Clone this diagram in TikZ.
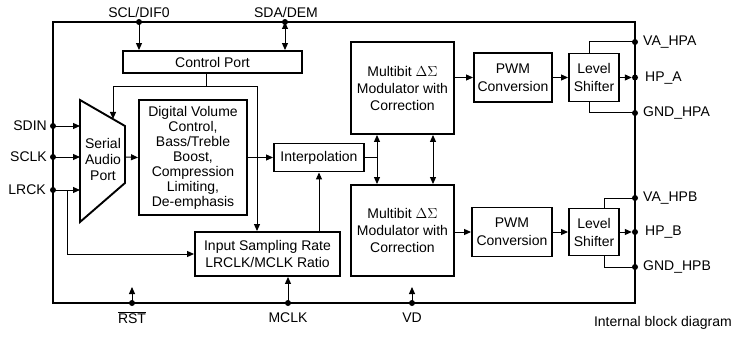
\documentclass[tikz,border=0pt]{standalone}
\usepackage{fontspec}
\setmainfont{Liberation Sans}
\usetikzlibrary{arrows.meta}
\begin{document}
\begin{tikzpicture}[x=1pt,y=-1pt,
  blk/.style={draw, line width=1.9pt, inner sep=0pt, align=center, font=\fontsize{14}{17}\selectfont},
  conn/.style={line width=1pt},
  arr/.style={conn,-{Triangle[length=7pt,width=6pt]}},
  darr/.style={conn,{Triangle[length=7pt,width=6pt]}-{Triangle[length=7pt,width=6pt]}},
  dot/.style={circle, fill, inner sep=0pt, minimum size=6pt},
  lbl/.style={inner sep=0pt, font=\fontsize{14}{16}\selectfont}]
\useasboundingbox (0,0) rectangle (737,337);
% chip outline
\draw[line width=1.9pt] (53,22) rectangle (635,303);
% blocks
\node[blk, minimum width=179pt, minimum height=22pt] (cp) at (212.5,62) {Control Port};
\node[blk, minimum width=108pt, minimum height=115pt, font=\fontsize{14}{15}\selectfont] (dv) at (193,157.5)
  {Digital Volume\\Control,\\Bass/Treble\\Boost,\\Compression\\Limiting,\\De-emphasis};
\node[blk, minimum width=90pt, minimum height=28pt] (ip) at (319,157.5) {Interpolation};
\node[blk, minimum width=145pt, minimum height=44pt] (isr) at (267.5,254) {Input Sampling Rate\\LRCLK/MCLK Ratio};
\node[blk, minimum width=103pt, minimum height=92pt] (ma) at (402.5,88) {Multibit $\Delta\Sigma$\\Modulator with\\Correction};
\node[blk, minimum width=103pt, minimum height=91pt] (mb) at (402.5,230.5) {Multibit $\Delta\Sigma$\\Modulator with\\Correction};
\node[blk, minimum width=78pt, minimum height=49pt, font=\fontsize{14}{18}\selectfont] (pa) at (513,77.5) {PWM\\Conversion};
\node[blk, minimum width=50pt, minimum height=48pt, font=\fontsize{14}{18}\selectfont] (la) at (594,77.5) {Level\\Shifter};
\node[blk, minimum width=80pt, minimum height=49pt, font=\fontsize{14}{18}\selectfont] (pb) at (512,232) {PWM\\Conversion};
\node[blk, minimum width=50pt, minimum height=47pt, font=\fontsize{14}{18}\selectfont] (lb) at (594,232) {Level\\Shifter};
% serial audio port trapezoid
\coordinate (s1) at (80,100);
\coordinate (s2) at (125,126);
\coordinate (s3) at (125,183);
\coordinate (s4) at (80,222);
\draw[line width=1.9pt] (s1) -- (s2) -- (s3) -- (s4) -- cycle;
\node[blk, draw=none, font=\fontsize{14}{16}\selectfont] (sap) at (103,159) {Serial\\Audio\\Port};
% dots
\node[dot] (dscl) at (139,22) {};
\node[dot] (dsda) at (285,22) {};
\node[dot] (dsdin) at (53,126) {};
\node[dot] (dsclk) at (53,157) {};
\node[dot] (dlrck) at (53,190) {};
\node[dot] (drst) at (132,303) {};
\node[dot] (dmclk) at (288,303) {};
\node[dot] (dvd) at (412,303) {};
\node[dot] (dvaa) at (635,42) {};
\node[dot] (dhpa) at (635,77.5) {};
\node[dot] (dgnda) at (635,113) {};
\node[dot] (dvab) at (635,198) {};
\node[dot] (dhpb) at (635,232) {};
\node[dot] (dgndb) at (635,267) {};
% labels
\node[lbl] (lscl) at (139,12) {SCL/DIF0};
\node[lbl] (lsda) at (286,12) {SDA/DEM};
\node[lbl, anchor=east] (lsdin) at (47,126) {SDIN};
\node[lbl, anchor=east] (lsclk) at (47,157) {SCLK};
\node[lbl, anchor=east] (llrck) at (46,190) {LRCK};
\node[lbl] (lrst) at (132,318) {$\overline{\hbox{RST}}$};
\node[lbl] (lmclk) at (288,318) {MCLK};
\node[lbl] (lvd) at (412,318) {VD};
\node[lbl, anchor=west] (lvaa) at (643,42) {VA\_HPA};
\node[lbl, anchor=west] (lhpa) at (645,78) {HP\_A};
\node[lbl, anchor=west] (lgnda) at (643,113) {GND\_HPA};
\node[lbl, anchor=west] (lvab) at (643,198) {VA\_HPB};
\node[lbl, anchor=west] (lhpb) at (645,232) {HP\_B};
\node[lbl, anchor=west] (lgndb) at (643,267) {GND\_HPB};
\node[lbl, anchor=east] (cap) at (732,323) {Internal block diagram};
% coordinates
\coordinate (sin1) at (80,126);
\coordinate (sin2) at (80,157);
\coordinate (sin3) at (80,190);
\coordinate (sout) at (125,157);
\coordinate (jc) at (206,87);
\coordinate (jl) at (113,87);
\coordinate (jr) at (257,87);
\coordinate (stip) at (113,119);
\coordinate (jlr) at (67,190);
\coordinate (jlr2) at (67,254);
\coordinate (ji) at (377,157.5);
\coordinate (jd) at (433,157.5);
\coordinate (rtip) at (132,287);
\coordinate (vtip) at (412,287);
\coordinate (vaa) at (589,42);
\coordinate (gnda) at (589,113);
\coordinate (vab) at (604,198);
\coordinate (gndb) at (604,267);
% connectors
\draw[arr] (dscl.center) -- (cp.north -| dscl);
\draw[darr] (dsda.center) -- (cp.north -| dsda);
\draw[arr] (dsdin.center) -- (sin1);
\draw[arr] (dsclk.center) -- (sin2);
\draw[arr] (dlrck.center) -- (sin3);
\draw[arr] (sout) -- (dv.west);
\draw[conn] (cp.south -| jc) -- (jc);
\draw[arr] (jr) -- (jl) -- (stip);
\draw[arr] (jl) -- (jr) -- (isr.north -| jr);
\draw[arr] (jlr) -- (jlr2) -- (isr.west);
\draw[arr] (dv.east) -- (ip.west);
\draw[arr] (isr.north -| ip.south) -- (ip.south);
\draw[conn] (ip.east) -- (ji);
\draw[arr] (ji) -- (ma.south -| ji);
\draw[arr] (ji) -- (mb.north -| ji);
\draw[darr] (ma.south -| jd) -- (mb.north -| jd);
\draw[arr] (ma.east |- pa.west) -- (pa.west);
\draw[arr] (pa.east) -- (la.west);
\draw[arr] (la.east) -- (dhpa.west);
\draw[conn] (la.north -| vaa) -- (vaa) -- (dvaa.center);
\draw[conn] (la.south -| gnda) -- (gnda) -- (dgnda.center);
\draw[arr] (mb.east |- pb.west) -- (pb.west);
\draw[arr] (pb.east) -- (lb.west);
\draw[arr] (lb.east) -- (dhpb.west);
\draw[conn] (lb.north -| vab) -- (vab) -- (dvab.center);
\draw[conn] (lb.south -| gndb) -- (gndb) -- (dgndb.center);
\draw[arr] (dmclk.center) -- (isr.south -| dmclk);
\draw[arr] (drst.center) -- (rtip);
\draw[arr] (dvd.center) -- (vtip);
\end{tikzpicture}
\end{document}
